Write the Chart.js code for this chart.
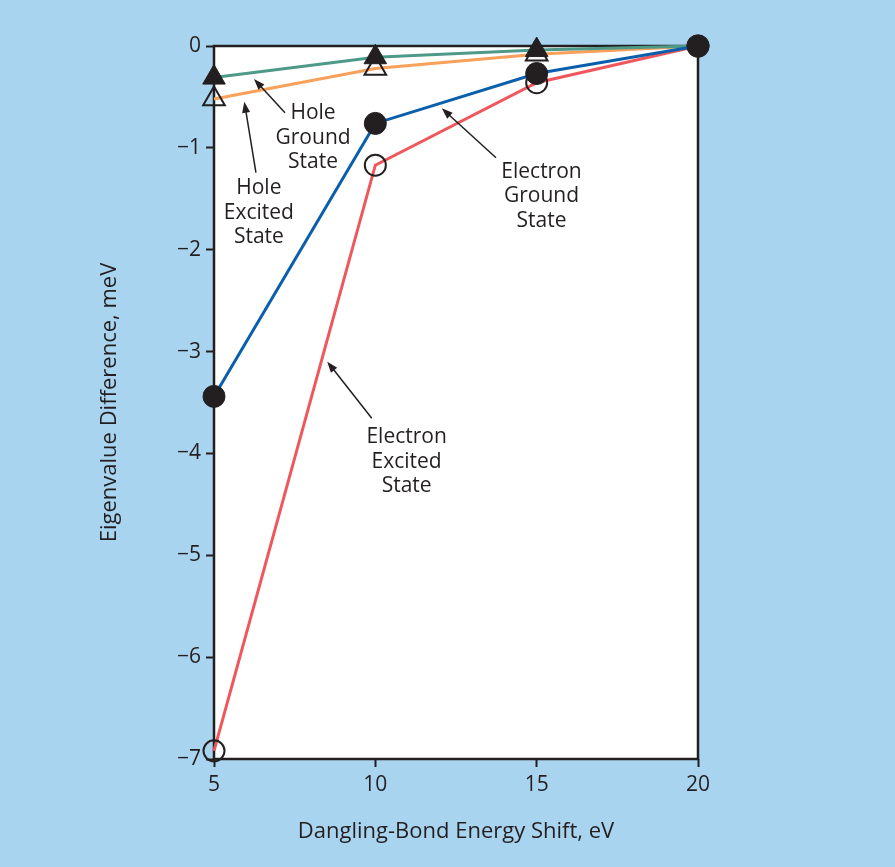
<!DOCTYPE html>
<html>
<head>
<meta charset="utf-8">
<script src="https://cdn.jsdelivr.net/npm/chart.js@4.4.1/dist/chart.umd.min.js"></script>
<style>
  html, body { margin: 0; padding: 0; background: #a9d4ef; }
  #wrap { width: 895px; height: 867px; position: relative; }
</style>
</head>
<body>
<div id="wrap"><canvas id="eigenChart"></canvas></div>
<script>
// Data
var shifts = [5, 10, 15, 20];
var electronGround = [-3.44, -0.76, -0.27, 0];
var electronExcited = [-6.92, -1.17, -0.36, 0];
var holeGround = [-0.31, -0.11, -0.04, 0];
var holeExcited = [-0.52, -0.22, -0.08, 0];

var xTicks = [5, 10, 15, 20];
var yTicks = [0, -1, -2, -3, -4, -5, -6, -7];

// Callout labels, in data units: text anchor, arrow tail, arrow head
var callouts = [
    { lines: ['Hole', 'Ground', 'State'], at: [8.07, -0.90], from: [7.20, -0.655], to: [6.24, -0.324] },
    { lines: ['Hole', 'Excited', 'State'], at: [6.39, -1.635], from: [6.30, -1.244], to: [5.94, -0.547] },
    { lines: ['Electron', 'Ground', 'State'], at: [15.15, -1.473], from: [13.74, -1.097], to: [12.06, -0.612] },
    { lines: ['Electron', 'Excited', 'State'], at: [10.97, -4.081], from: [9.89, -3.655], to: [8.51, -3.099] }
];

var ink = '#231f20';
var font = "'Open Sans', 'Noto Sans', sans-serif";

function toPoints(values) {
    return shifts.map(function(x, i) { return { x: x, y: values[i] }; });
}

function minusLabel(v) {
    return v < 0 ? '\u2212' + Math.abs(v) : String(v);
}

var framePlugin = {
    id: 'frame',
    beforeDraw: function(chart) {
        var ctx = chart.ctx, a = chart.chartArea;
        ctx.save();
        ctx.fillStyle = '#a9d4ef';
        ctx.fillRect(0, 0, chart.width, chart.height);
        ctx.fillStyle = '#ffffff';
        ctx.fillRect(a.left, a.top, a.right - a.left, a.bottom - a.top);
        ctx.restore();
    },
    beforeDatasetsDraw: function(chart) {
        var ctx = chart.ctx, a = chart.chartArea;
        ctx.save();
        ctx.strokeStyle = ink;
        ctx.lineWidth = 2.5;
        ctx.strokeRect(a.left, a.top, a.right - a.left, a.bottom - a.top);
        ctx.restore();
    }
};

var calloutPlugin = {
    id: 'callouts',
    afterDraw: function(chart) {
        var ctx = chart.ctx;
        var xs = chart.scales.x, ys = chart.scales.y;
        ctx.save();
        callouts.forEach(function(c) {
            var x1 = xs.getPixelForValue(c.from[0]), y1 = ys.getPixelForValue(c.from[1]);
            var x2 = xs.getPixelForValue(c.to[0]), y2 = ys.getPixelForValue(c.to[1]);
            var ang = Math.atan2(y2 - y1, x2 - x1);
            var headLen = 11, headW = 4;
            // shaft
            ctx.strokeStyle = ink;
            ctx.lineWidth = 1.5;
            ctx.beginPath();
            ctx.moveTo(x1, y1);
            ctx.lineTo(x2 - Math.cos(ang) * headLen * 0.8, y2 - Math.sin(ang) * headLen * 0.8);
            ctx.stroke();
            // head
            ctx.fillStyle = ink;
            ctx.beginPath();
            ctx.moveTo(x2, y2);
            ctx.lineTo(x2 - Math.cos(ang) * headLen + Math.sin(ang) * headW,
                       y2 - Math.sin(ang) * headLen - Math.cos(ang) * headW);
            ctx.lineTo(x2 - Math.cos(ang) * headLen - Math.sin(ang) * headW,
                       y2 - Math.sin(ang) * headLen + Math.cos(ang) * headW);
            ctx.closePath();
            ctx.fill();
            // text
            var cx = xs.getPixelForValue(c.at[0]), cy = ys.getPixelForValue(c.at[1]);
            ctx.font = '21px ' + font;
            ctx.textAlign = 'center';
            ctx.textBaseline = 'middle';
            var lh = 24.5;
            c.lines.forEach(function(t, i) {
                ctx.fillText(t, cx, cy + (i - (c.lines.length - 1) / 2) * lh);
            });
        });
        ctx.restore();
    }
};

var ctx = document.getElementById('eigenChart').getContext('2d');
var eigenChart = new Chart(ctx, {
    type: 'line',
    data: {
        datasets: [
            {
                label: 'Electron Ground State',
                data: toPoints(electronGround),
                borderColor: '#0a5fad',
                borderWidth: 3,
                pointStyle: 'circle',
                pointRadius: 11,
                pointBackgroundColor: ink,
                pointBorderColor: ink,
                pointBorderWidth: 1,
                clip: false
            },
            {
                label: 'Electron Excited State',
                data: toPoints(electronExcited),
                borderColor: '#f0575c',
                borderWidth: 3,
                pointStyle: 'circle',
                pointRadius: 10.5,
                pointBackgroundColor: 'rgba(0,0,0,0)',
                pointBorderColor: ink,
                pointBorderWidth: 2,
                clip: false
            },
            {
                label: 'Hole Ground State',
                data: toPoints(holeGround),
                borderColor: '#4e9a88',
                borderWidth: 3,
                pointStyle: 'triangle',
                pointRadius: [13, 13, 13, 0],
                pointBackgroundColor: ink,
                pointBorderColor: ink,
                pointBorderWidth: 1,
                clip: false
            },
            {
                label: 'Hole Excited State',
                data: toPoints(holeExcited),
                borderColor: '#f9a05a',
                borderWidth: 3,
                pointStyle: 'triangle',
                pointRadius: [12.5, 12.5, 12.5, 0],
                pointBackgroundColor: 'rgba(0,0,0,0)',
                pointBorderColor: ink,
                pointBorderWidth: 2,
                clip: false
            }
        ]
    },
    options: {
        responsive: true,
        maintainAspectRatio: false,
        animation: false,
        layout: { padding: { left: 0, top: 46, right: 197, bottom: 0 } },
        plugins: {
            legend: { display: false },
            tooltip: { enabled: false }
        },
        elements: { line: { tension: 0 } },
        scales: {
            x: {
                type: 'linear',
                min: 5,
                max: 20,
                afterFit: function(scale) { scale.height = 108; },
                afterBuildTicks: function(scale) {
                    scale.ticks = xTicks.map(function(v) { return { value: v }; });
                },
                border: { display: false },
                grid: { drawOnChartArea: false, drawTicks: true, tickLength: 8, tickColor: ink, tickWidth: 2 },
                ticks: { color: ink, padding: 5, font: { family: font, size: 21 }, maxRotation: 0 },
                title: {
                    display: true,
                    text: 'Dangling-Bond Energy Shift, eV',
                    color: ink,
                    font: { family: font, size: 22 },
                    padding: { top: 0, bottom: 21.8 }
                }
            },
            y: {
                type: 'linear',
                min: -7,
                max: 0,
                afterFit: function(scale) { scale.width = 214; },
                afterBuildTicks: function(scale) {
                    scale.ticks = yTicks.map(function(v) { return { value: v }; });
                },
                border: { display: false },
                grid: { drawOnChartArea: false, drawTicks: true, tickLength: 8, tickColor: ink, tickWidth: 2 },
                ticks: { color: ink, padding: 5, font: { family: font, size: 21 }, callback: minusLabel },
                title: {
                    display: true,
                    text: 'Eigenvalue Difference, meV',
                    color: ink,
                    font: { family: font, size: 22 },
                    padding: { top: 96.8, bottom: 0 }
                }
            }
        }
    },
    plugins: [framePlugin, calloutPlugin]
});
</script>
</body>
</html>
